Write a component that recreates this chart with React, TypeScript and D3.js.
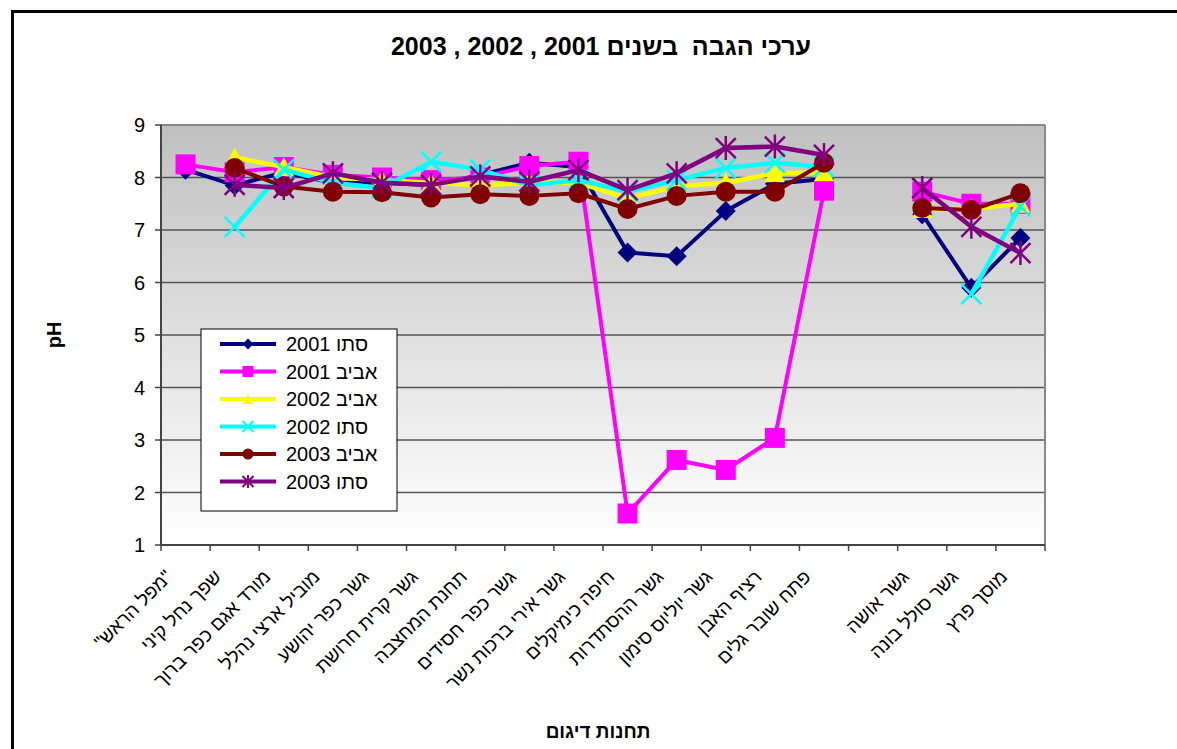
import React from "react";
import * as d3 from "d3";

const stations = [
  '"מפל הראש"',
  "שפך נחל קיני",
  "מורד אגם כפר ברוך",
  "מוביל ארצי נהלל",
  "גשר כפר יהושע",
  "גשר קרית חרושת",
  "תחנת המחצבה",
  "גשר כפר חסידים",
  "גשר אירי ברכות נשר",
  "חיפה כימיקלים",
  "גשר ההסתדרות",
  "גשר יוליוס סימון",
  "רציף האבן",
  "פתח שובר גלים",
  "",
  "גשר אושה",
  "גשר סולל בונה",
  "מוסך פרץ",
];

const fall2001 = [8.15, 7.85, 8.1, 7.9, 7.9, 7.85, 8.05, 8.28, 8.2, 6.57, 6.5, 7.36, 7.88, 7.97, null, 7.3, 5.9, 6.85];
const spring2001 = [8.25, 8.1, 8.2, 8.05, 8.0, 7.95, 8.0, 8.22, 8.3, 1.6, 2.62, 2.43, 3.04, 7.75, null, 7.73, 7.5, 7.5];
const spring2002 = [null, 8.38, 8.2, 8.0, 7.95, 7.9, 7.85, 7.9, 7.9, 7.6, 7.83, 7.9, 8.08, 8.1, null, 7.4, 7.4, 7.5];
const fall2002 = [null, 7.06, 8.15, 7.9, 7.8, 8.3, 8.15, 7.85, 7.95, 7.73, 7.95, 8.18, 8.28, 8.2, null, null, 5.78, 7.45];
const spring2003 = [null, 8.18, 7.83, 7.73, 7.72, 7.62, 7.68, 7.65, 7.7, 7.4, 7.65, 7.73, 7.73, 8.28, null, 7.42, 7.38, 7.7];
const fall2003 = [null, 7.86, 7.8, 8.08, 7.9, 7.86, 8.02, 7.92, 8.14, 7.76, 8.08, 8.56, 8.59, 8.43, null, 7.8, 7.06, 6.56];

const yTicks = [1, 2, 3, 4, 5, 6, 7, 8, 9];

const seriesNames = ["סתו 2001", "אביב 2001", "אביב 2002", "סתו 2002", "אביב 2003", "סתו 2003"];
const seriesValues = [fall2001, spring2001, spring2002, fall2002, spring2003, fall2003];
const seriesColors = ["#000080", "#FF00FF", "#FFFF00", "#00FFFF", "#800000", "#800080"];
const seriesMarkers = ["diamond", "square", "triangle", "x", "circle", "star"];
const seriesWidths = [4, 4, 4.5, 4.5, 4, 4.5];

const title = "ערכי הגבה  בשנים 2001 , 2002 , 2003";
const xTitle = "תחנות דיגום";
const yTitle = "pH";

const W = 1177;
const H = 749;
const plot = { left: 161, right: 1045, top: 125, bottom: 545 };

function Marker({ type, x, y, color, s }: { type: string; x: number; y: number; color: string; s: number }) {
  if (type === "diamond") {
    const p = `M${x},${y - s}L${x + s},${y}L${x},${y + s}L${x - s},${y}Z`;
    return <path d={p} fill={color} />;
  }
  if (type === "square") {
    return <rect x={x - s} y={y - s} width={2 * s} height={2 * s} fill={color} />;
  }
  if (type === "triangle") {
    const p = `M${x},${y - s}L${x + s},${y + s * 0.9}L${x - s},${y + s * 0.9}Z`;
    return <path d={p} fill={color} />;
  }
  if (type === "circle") {
    return <circle cx={x} cy={y} r={s} fill={color} />;
  }
  if (type === "x") {
    const p = `M${x - s},${y - s}L${x + s},${y + s}M${x - s},${y + s}L${x + s},${y - s}`;
    return <path d={p} stroke={color} strokeWidth={Math.max(2, s / 4)} fill="none" />;
  }
  const p = `M${x - s},${y - s}L${x + s},${y + s}M${x - s},${y + s}L${x + s},${y - s}M${x},${y - s * 1.2}L${x},${y + s * 1.2}`;
  return <path d={p} stroke={color} strokeWidth={Math.max(2, s / 4)} fill="none" />;
}

export default function App() {
  const x = d3
    .scaleBand<number>()
    .domain(stations.map((_, i) => i))
    .range([plot.left, plot.right])
    .paddingInner(0)
    .paddingOuter(0);
  const bw = x.bandwidth();
  const cx = (i: number) => (x(i) as number) + bw / 2;
  const y = d3.scaleLinear().domain([1, 9]).range([plot.bottom, plot.top]);

  const line = d3
    .line<number | null>()
    .defined((d) => d != null)
    .x((_, i) => cx(i))
    .y((d) => y(d as number));

  const font = "'Liberation Sans', Arial, sans-serif";
  const boundaries = d3.range(stations.length + 1).map((i) => plot.left + i * bw);

  const legend = { x: 201, y: 329, w: 196, h: 182 };
  const legendRow = (i: number) => legend.y + 15 + i * 27.5;

  return (
    <svg width={W} height={H} style={{ position: "absolute", left: 0, top: 0 }} fontFamily={font}>
      <defs>
        <linearGradient id="bg" x1="0" y1="0" x2="0" y2="1">
          <stop offset="0" stopColor="#c0c0c0" />
          <stop offset="1" stopColor="#ffffff" />
        </linearGradient>
      </defs>
      <rect x={0} y={0} width={W} height={H} fill="#fff" />
      <path d={`M12.5,${H}L12.5,11.5L${W},11.5`} stroke="#000" strokeWidth={3} fill="none" />

      <text
        x={601}
        y={55}
        textAnchor="middle"
        fontSize={25}
        fontWeight="bold"
        direction="rtl"
        style={{ whiteSpace: "pre" }}
      >
        {title}
      </text>

      <rect
        x={plot.left}
        y={plot.top}
        width={plot.right - plot.left}
        height={plot.bottom - plot.top}
        fill="url(#bg)"
      />
      {yTicks.map((t) => (
        <line key={t} x1={plot.left} x2={plot.right} y1={y(t)} y2={y(t)} stroke="#555" strokeWidth={1.3} />
      ))}
      <line x1={plot.left} x2={plot.right} y1={plot.top} y2={plot.top} stroke="#888" strokeWidth={2} />
      <line x1={plot.right} x2={plot.right} y1={plot.top} y2={plot.bottom} stroke="#888" strokeWidth={2} />
      <line x1={plot.left} x2={plot.left} y1={plot.top} y2={plot.bottom} stroke="#444" strokeWidth={2} />
      <line x1={plot.left} x2={plot.right} y1={plot.bottom} y2={plot.bottom} stroke="#444" strokeWidth={2} />

      {yTicks.map((t) => (
        <g key={t}>
          <line x1={plot.left - 6} x2={plot.left} y1={y(t)} y2={y(t)} stroke="#444" strokeWidth={1.5} />
          <text x={145} y={y(t) + 7} textAnchor="end" fontSize={20}>
            {t}
          </text>
        </g>
      ))}
      {boundaries.map((b, i) => (
        <line key={i} x1={b} x2={b} y1={plot.bottom} y2={plot.bottom + 6} stroke="#444" strokeWidth={1.5} />
      ))}
      {stations.map((s, i) =>
        s ? (
          <text
            key={i}
            transform={`translate(${cx(i) - 12},${plot.bottom + 33}) rotate(-45)`}
            textAnchor="end"
            fontSize={19}
          >
            {s}
          </text>
        ) : null
      )}

      <text x={598} y={738} textAnchor="middle" fontSize={19} fontWeight="bold" direction="rtl">
        {xTitle}
      </text>
      <text transform={`translate(61,335) rotate(-90)`} textAnchor="middle" fontSize={20} fontWeight="bold">
        {yTitle}
      </text>

      {seriesValues.map((vals, si) => (
        <g key={si}>
          <path
            d={line(vals) || ""}
            stroke={seriesColors[si]}
            strokeWidth={seriesWidths[si]}
            fill="none"
            strokeLinejoin="round"
          />
          {vals.map((v, i) =>
            v == null ? null : (
              <Marker key={i} type={seriesMarkers[si]} x={cx(i)} y={y(v)} color={seriesColors[si]} s={10} />
            )
          )}
        </g>
      ))}

      <rect x={legend.x} y={legend.y} width={legend.w} height={legend.h} fill="#fff" stroke="#000" strokeWidth={1} />
      {seriesNames.map((n, i) => (
        <g key={i}>
          <line x1={220} x2={276} y1={legendRow(i)} y2={legendRow(i)} stroke={seriesColors[i]} strokeWidth={4} />
          <Marker type={seriesMarkers[i]} x={248} y={legendRow(i)} color={seriesColors[i]} s={5.5} />
          <text x={286} y={legendRow(i) + 7} fontSize={20}>
            {n}
          </text>
        </g>
      ))}
    </svg>
  );
}
